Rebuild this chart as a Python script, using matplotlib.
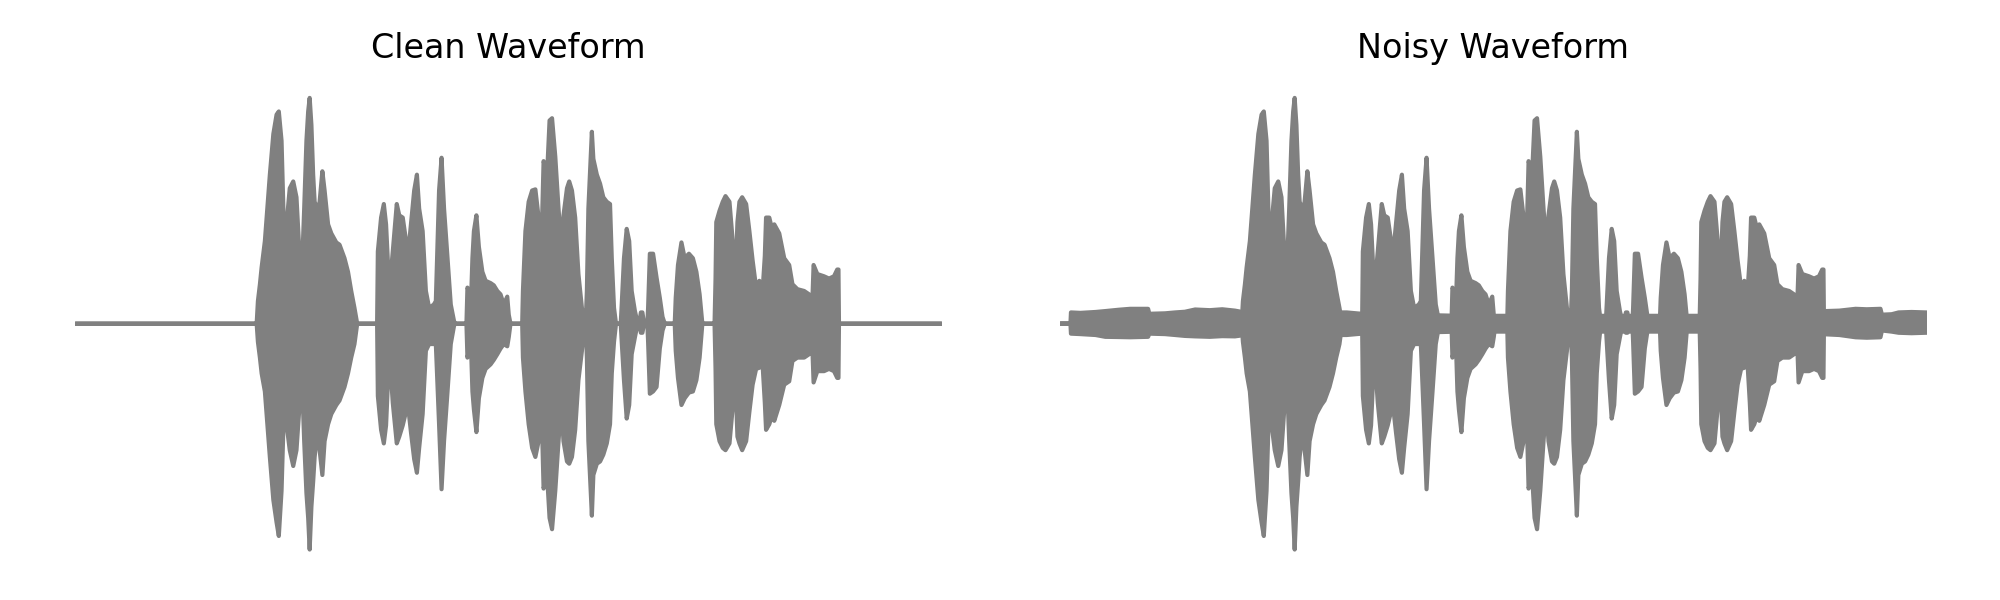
import numpy as np
import matplotlib
matplotlib.use("Agg")
import matplotlib.pyplot as plt

# ---- Data (time in ms, amplitude normalised) ----
# envelope of the clean speech waveform: (time, upper, lower)
clean_t = [0, 728, 733, 741, 748, 761, 781, 795, 808, 817, 828, 837, 841, 848, 861, 875, 888,
           901, 908, 919, 928, 935, 941, 948, 955, 961, 975, 981, 992, 1001, 1015, 1028, 1048,
           1061, 1081, 1095, 1108, 1121, 1132, 1212, 1215, 1228, 1239, 1248, 1261, 1275, 1291,
           1301, 1315, 1328, 1335, 1348, 1361, 1372, 1381, 1395, 1408, 1421, 1440, 1448, 1461,
           1471, 1481, 1495, 1508, 1521, 1525, 1571, 1575, 1581, 1588, 1595, 1601, 1611, 1621,
           1635, 1648, 1668, 1681, 1695, 1708, 1721, 1735, 1741, 1748, 1795, 1798, 1808, 1821,
           1835, 1848, 1861, 1871, 1881, 1895, 1905, 1915, 1928, 1941, 1952, 1961, 1975, 1984,
           1995, 2008, 2021, 2035, 2045, 2050, 2055, 2061, 2075, 2081, 2095, 2108, 2121, 2135,
           2148, 2155, 2164, 2172, 2191, 2195, 2204, 2215, 2225, 2235, 2248, 2257, 2265, 2272,
           2278, 2285, 2298, 2301, 2308, 2321, 2335, 2348, 2359, 2368, 2408, 2412, 2421, 2435,
           2448, 2465, 2481, 2495, 2508, 2519, 2568, 2572, 2575, 2588, 2601, 2612, 2628, 2641,
           2651, 2660, 2668, 2679, 2695, 2708, 2721, 2735, 2748, 2761, 2770, 2775, 2788, 2801,
           2808, 2828, 2848, 2868, 2881, 2901, 2928, 2948, 2961, 2966, 2981, 3008, 3028, 3048,
           3061, 3066, 3068, 3480]
clean_upper = [0, 0, 0.10, 0.174, 0.25, 0.366, 0.66, 0.84, 0.926, 0.94, 0.81, 0.44, 0.19,
               0.44, 0.60, 0.63, 0.56, 0.29, 0.18, 0.51, 0.81, 0.94, 1.0, 0.88, 0.66, 0.54,
               0.50, 0.54, 0.675, 0.59, 0.44, 0.40, 0.36, 0.35, 0.29, 0.23, 0.145, 0.07, 0,
               0, 0.32, 0.47, 0.53, 0.44, 0.145, 0.32, 0.53, 0.48, 0.47, 0.37, 0.29, 0.44,
               0.59, 0.66, 0.51, 0.41, 0.145, 0.07, 0.085, 0.10, 0.59, 0.735, 0.51, 0.29,
               0.085, 0.012, 0, 0, 0.16, 0.145, 0.055, 0.29, 0.41, 0.48, 0.34, 0.23, 0.19,
               0.18, 0.17, 0.145, 0.13, 0.085, 0.12, 0.04, 0, 0, 0.145, 0.41, 0.54, 0.59,
               0.595, 0.47, 0.29, 0.72, 0.66, 0.90, 0.91, 0.74, 0.51, 0.34, 0.48, 0.60, 0.63,
               0.59, 0.47, 0.22, 0.07, 0, 0, 0.145, 0.51, 0.85, 0.73, 0.66, 0.62, 0.56, 0.54,
               0.53, 0.29, 0.07, 0, 0, 0.085, 0.29, 0.42, 0.366, 0.145, 0.056, 0.012, 0, 0.05,
               0.05, 0, 0, 0.07, 0.31, 0.31, 0.204, 0.115, 0.03, 0, 0, 0.115, 0.26, 0.36,
               0.29, 0.31, 0.29, 0.23, 0.13, 0, 0, 0.20, 0.45, 0.50, 0.54, 0.565, 0.54, 0.366,
               0.17, 0.45, 0.54, 0.56, 0.53, 0.41, 0.28, 0.16, 0.19, 0.145, 0.30, 0.47, 0.47,
               0.41, 0.44, 0.40, 0.29, 0.26, 0.175, 0.153, 0.145, 0.13, 0.10, 0.26, 0.22, 0.21,
               0.20, 0.21, 0.24, 0.24, 0, 0]
clean_lower = [0, 0, -0.08, -0.15, -0.22, -0.30, -0.59, -0.78, -0.88, -0.94, -0.74, -0.40,
               -0.195, -0.445, -0.56, -0.63, -0.56, -0.35, -0.18, -0.52, -0.75, -0.86, -1.0,
               -0.81, -0.70, -0.59, -0.445, -0.56, -0.67, -0.52, -0.445, -0.40, -0.36, -0.34,
               -0.28, -0.22, -0.15, -0.09, 0, 0, -0.32, -0.47, -0.53, -0.45, -0.12, -0.35,
               -0.53, -0.50, -0.45, -0.39, -0.35, -0.48, -0.60, -0.66, -0.55, -0.40, -0.12,
               -0.09, -0.09, -0.09, -0.445, -0.733, -0.52, -0.30, -0.09, -0.01, 0, 0, -0.15,
               -0.12, -0.05, -0.30, -0.38, -0.48, -0.33, -0.24, -0.20, -0.18, -0.16, -0.135,
               -0.11, -0.09, -0.10, -0.06, 0, 0, -0.15, -0.30, -0.445, -0.55, -0.59, -0.52,
               -0.30, -0.73, -0.67, -0.86, -0.91, -0.74, -0.52, -0.36, -0.52, -0.61, -0.62,
               -0.59, -0.47, -0.25, -0.12, 0, 0, -0.15, -0.52, -0.85, -0.67, -0.62, -0.61,
               -0.58, -0.53, -0.445, -0.22, -0.08, 0, 0, -0.08, -0.25, -0.42, -0.36, -0.135,
               -0.06, -0.01, 0, -0.04, -0.04, 0, 0, -0.08, -0.31, -0.30, -0.28, -0.11, -0.03,
               0, 0, -0.12, -0.24, -0.36, -0.33, -0.305, -0.30, -0.25, -0.15, 0, 0, -0.20,
               -0.445, -0.52, -0.55, -0.56, -0.53, -0.37, -0.22, -0.50, -0.53, -0.56, -0.52,
               -0.39, -0.27, -0.20, -0.195, -0.18, -0.35, -0.47, -0.445, -0.40, -0.43, -0.36,
               -0.27, -0.255, -0.165, -0.15, -0.15, -0.135, -0.105, -0.26, -0.21, -0.21, -0.20,
               -0.21, -0.24, -0.24, 0, 0]

# background noise band of the noisy recording: (time, upper, lower)
noise_t = [0, 40, 42, 80, 141, 180, 235, 280, 352, 357, 420, 461, 500, 541, 600, 650, 701,
           740, 1100, 1150, 1200, 1600, 2000, 2500, 2900, 3070, 3075, 3130, 3195, 3240, 3295,
           3301, 3340, 3368, 3420, 3478, 3481]
noise_upper = [0, 0, 0.05, 0.048, 0.052, 0.056, 0.062, 0.066, 0.066, 0.044, 0.046, 0.05,
               0.053, 0.063, 0.06, 0.064, 0.058, 0.05, 0.05, 0.05, 0.045, 0.035, 0.035,
               0.035, 0.035, 0.05, 0.056, 0.058, 0.066, 0.064, 0.066, 0.04, 0.042, 0.05,
               0.052, 0.05, 0.05]
noise_lower = [0, 0, -0.044, -0.046, -0.05, -0.058, -0.059, -0.06, -0.058, -0.044, -0.046,
               -0.05, -0.054, -0.056, -0.058, -0.055, -0.056, -0.05, -0.05, -0.05, -0.045,
               -0.035, -0.035, -0.035, -0.035, -0.045, -0.047, -0.05, -0.06, -0.062, -0.06,
               -0.03, -0.035, -0.04, -0.042, -0.04, -0.04]

titles = ["Clean Waveform", "Noisy Waveform"]
color = "gray"

fig = plt.figure(figsize=(10, 3), dpi=200)
ax1 = fig.add_axes([75 / 2000, 0.0473, 866 / 2000, 0.828])
ax2 = fig.add_axes([1060 / 2000, 0.0473, 866 / 2000, 0.828])

style = dict(color=color, lw=1.5, edgecolor=color, joinstyle="round")

ax1.fill_between(clean_t, clean_lower, clean_upper, **style)

ax2.fill_between(noise_t, noise_lower, noise_upper, **style)
ax2.fill_between(clean_t, clean_lower, clean_upper, **style)

for ax, title in zip((ax1, ax2), titles):
    ax.set_xlim(0, 3480)
    ax.set_ylim(-1.1, 1.1)
    ax.set_title(title)
    ax.axis("off")

fig.savefig("out.png", dpi=200)
